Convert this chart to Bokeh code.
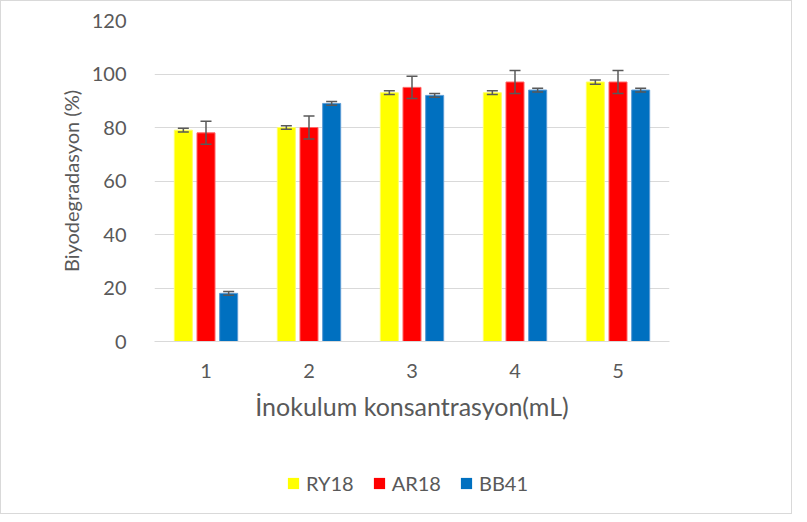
from bokeh.plotting import figure
from bokeh.layouts import column
from bokeh.models import ColumnDataSource, FactorRange, Whisker, TeeHead, Legend, LegendItem
from bokeh.transform import dodge
from bokeh.embed import file_html
from bokeh.resources import INLINE

categories = ["1", "2", "3", "4", "5"]
series_names = ["RY18", "AR18", "BB41"]
ry18 = [79, 80, 93, 93, 97]
ar18 = [78, 80, 95, 97, 97]
bb41 = [18, 89, 92, 94, 94]
ry18_err = [0.7, 0.7, 0.7, 0.7, 0.8]
ar18_err = [4.3, 4.3, 4.2, 4.3, 4.3]
bb41_err = [0.7, 0.7, 0.7, 0.7, 0.7]
y_ticks = [0, 20, 40, 60, 80, 100, 120]

colors = ["#FFFF00", "#FF0000", "#0070C0"]
outlines = ["#FFFF66", "#FF6666", "#5B9BD5"]
offsets = [-0.22, 0.0, 0.22]
values = [ry18, ar18, bb41]
errors = [ry18_err, ar18_err, bb41_err]

FONT = "Lato"
GRAY = "#595959"

p = figure(x_range=FactorRange(*categories), y_range=(0, 120),
           width=790, height=450, output_backend="svg", toolbar_location=None,
           min_border_left=153, min_border_right=122, min_border_top=19, min_border_bottom=110)
p.outline_line_color = None

for name, vals, errs, col, oc, off in zip(series_names, values, errors, colors, outlines, offsets):
    src = ColumnDataSource(dict(x=categories, top=vals,
                                upper=[v + e for v, e in zip(vals, errs)],
                                lower=[v - e for v, e in zip(vals, errs)]))
    p.vbar(x=dodge("x", off, range=p.x_range), top="top", width=0.175, source=src,
           fill_color=col, line_color=oc, line_width=1)
    w = Whisker(source=src, base=dodge("x", off, range=p.x_range), upper="upper", lower="lower",
                line_color=GRAY, line_width=1.5, level="overlay",
                upper_head=TeeHead(size=11, line_color=GRAY, line_width=1.5),
                lower_head=TeeHead(size=11, line_color=GRAY, line_width=1.5))
    p.add_layout(w)

p.ygrid.grid_line_color = "#d9d9d9"
p.ygrid.grid_line_width = 1
p.xgrid.grid_line_color = None
p.yaxis.ticker = y_ticks
p.yaxis.axis_line_color = None
p.yaxis.major_tick_line_color = None
p.yaxis.minor_tick_line_color = None
p.yaxis.major_label_standoff = 22
p.yaxis.major_label_text_font = FONT
p.yaxis.major_label_text_font_size = "20px"
p.yaxis.major_label_text_color = GRAY
p.yaxis.axis_label = "Biyodegradasyon (%)"
p.yaxis.axis_label_text_font = FONT
p.yaxis.axis_label_text_font_size = "20px"
p.yaxis.axis_label_text_font_style = "normal"
p.yaxis.axis_label_text_color = GRAY
p.yaxis.axis_label_standoff = 6

p.xaxis.axis_line_color = "#d9d9d9"
p.xaxis.axis_line_width = 1
p.xaxis.major_tick_line_color = None
p.xaxis.minor_tick_line_color = None
p.xaxis.major_label_standoff = 16
p.xaxis.major_label_text_font = FONT
p.xaxis.major_label_text_font_size = "20px"
p.xaxis.major_label_text_color = GRAY
p.xaxis.axis_label = "İnokulum konsantrasyon(mL)"
p.xaxis.axis_label_text_font = FONT
p.xaxis.axis_label_text_font_size = "25px"
p.xaxis.axis_label_text_font_style = "normal"
p.xaxis.axis_label_text_color = GRAY
p.xaxis.axis_label_standoff = 10

# legend strip below the chart (its frame is aligned with the chart's frame);
# its bars lie far outside its y range, so only the legend shows
p2 = figure(width=790, height=62, output_backend="svg", toolbar_location=None,
            min_border=0, x_range=FactorRange(*categories), y_range=(1000, 2000))
p2.axis.visible = False
p2.grid.visible = False
p2.outline_line_color = None
items = []
for name, vals, col in zip(series_names, values, colors):
    r = p2.vbar(x=categories, top=vals, bottom=0, width=0.175, fill_color=col,
                line_color=col, line_alpha=0)
    items.append(LegendItem(label=name, renderers=[r]))
legend = Legend(items=items, orientation="horizontal", location=(132, 18),
                label_text_font=FONT, label_text_font_size="20px", label_text_color=GRAY,
                glyph_width=14, glyph_height=14, spacing=18, label_standoff=6,
                border_line_color=None, background_fill_alpha=0, margin=0, padding=0)
p2.add_layout(legend)

layout = column(p, p2, spacing=0)
layout.styles = {"border": "1px solid #d9d9d9"}

open("out.html", "w").write(file_html(layout, INLINE))
